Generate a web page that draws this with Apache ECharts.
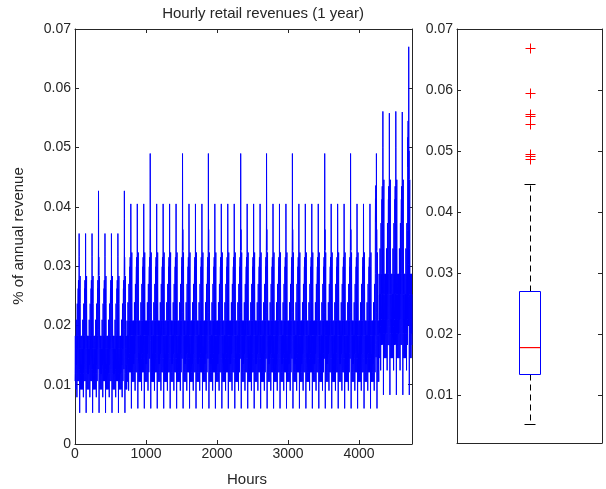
<!DOCTYPE html>
<html>
<head>
<meta charset="utf-8">
<script src="https://cdn.jsdelivr.net/npm/echarts@6/dist/echarts.min.js"></script>
<style>
  html, body { margin: 0; padding: 0; background: #ffffff; }
  #chart { width: 606px; height: 489px; }
</style>
</head>
<body>
<div id="chart"></div>
<script>
// ---- Hourly revenue profiles (% of annual revenue), 13 trading hours per day ----
const HOURS_PER_DAY = 13;
const profileTue = [0.0121, 0.0135, 0.0152, 0.0183, 0.0208, 0.0183, 0.0152, 0.0135, 0.0144, 0.0183, 0.0152, 0.0135, 0.0121];
const profileWed = [0.0105, 0.0135, 0.0152, 0.0183, 0.0239, 0.0208, 0.0183, 0.0152, 0.0152, 0.0183, 0.0183, 0.0144, 0.0121];
const profileThu = [0.0090, 0.0135, 0.0183, 0.0208, 0.0239, 0.0270, 0.0208, 0.0183, 0.0183, 0.0208, 0.0183, 0.0152, 0.0121];
const profileFri = [0.0121, 0.0152, 0.0208, 0.0270, 0.0270, 0.0299, 0.0270, 0.0270, 0.0270, 0.0315, 0.0270, 0.0208, 0.0144];
const profileSat = [0.0121, 0.0183, 0.0270, 0.0270, 0.0315, 0.0405, 0.0361, 0.0299, 0.0270, 0.0299, 0.0270, 0.0183, 0.0144];
const profileSun = [0.0060, 0.0135, 0.0183, 0.0239, 0.0270, 0.0299, 0.0323, 0.0270, 0.0270, 0.0208, 0.0183, 0.0135, 0.0105];
const profileMon = [0.0105, 0.0121, 0.0135, 0.0152, 0.0183, 0.0208, 0.0183, 0.0152, 0.0135, 0.0152, 0.0144, 0.0121, 0.0105];

// Calendar: 365 days, the year opens on a Tuesday (0 = Sunday)
const DAYS = 365;
const FIRST_WEEKDAY = 2;

// Level of each week relative to the base profiles (53 weeks)
const weekScale = [
  0.877, 0.877, 0.877, 0.877, 0.877, 0.877, 0.877, 0.877,
  1, 1, 1, 1, 1, 1, 1, 1, 1, 1,
  1, 1, 1, 1, 1, 1, 1, 1, 1, 1,
  1, 1, 1, 1, 1, 1, 1, 1, 1, 1,
  1, 1, 1, 1, 1, 1, 1, 1, 1,
  1.38, 1.38, 1.38, 1.38, 1.38, 1.38
];

// Peak hour of each Saturday (53 weeks)
const saturdayPeak = [
  0.0355, 0.0355, 0.0355, 0.0427, 0.0355, 0.0355, 0.0355, 0.0427,
  0.0405, 0.0405, 0.0405, 0.0490, 0.0405, 0.0405, 0.0405, 0.0405, 0.0490,
  0.0405, 0.0405, 0.0405, 0.0490, 0.0405, 0.0405, 0.0405, 0.0405, 0.0490,
  0.0405, 0.0405, 0.0405, 0.0490, 0.0405, 0.0405, 0.0405, 0.0490,
  0.0405, 0.0405, 0.0405, 0.0405, 0.0490, 0.0405, 0.0405, 0.0405, 0.0490,
  0.0405, 0.0405, 0.0405, 0.0490,
  0.0561, 0.0558, 0.0561, 0.0560, 0.0670, 0.0560
];

// Individual days with an unusual peak hour
const specialDays = [325, 360];
const specialPeaks = [0.0436, 0.0545];

// Box plot summary of all hourly values
const boxStats = [0.0052, 0.0135, 0.0179, 0.0271, 0.0446]; // min, Q1, median, Q3, max
const outliers = [0.0670, 0.0595, 0.0561, 0.0558, 0.0545, 0.0496, 0.0493, 0.0487];

// Axis ticks
const hourTicks = [0, 1000, 2000, 3000, 4000];
const shareTicks = [0, 0.01, 0.02, 0.03, 0.04, 0.05, 0.06, 0.07];
const boxTicks = [0.01, 0.02, 0.03, 0.04, 0.05, 0.06, 0.07];

// ---- Assemble the hourly series ----
const profilesBySunday = [profileSun, profileMon, profileTue, profileWed, profileThu, profileFri, profileSat];
const hourly = [];
for (let d = 0; d < DAYS; d++) {
  const weekday = (FIRST_WEEKDAY + d) % 7;
  const week = Math.floor(d / 7);
  const profile = profilesBySunday[weekday];
  const top = Math.max.apply(null, profile);
  let factor = weekScale[week];
  const s = specialDays.indexOf(d);
  if (s >= 0) factor = specialPeaks[s] / top;
  else if (weekday === 6) factor = saturdayPeak[week] / top;
  for (let h = 0; h < HOURS_PER_DAY; h++) {
    hourly.push([d * HOURS_PER_DAY + h + 1, +(profile[h] * factor).toFixed(5)]);
  }
}
const TOTAL_HOURS = hourly.length;

// ---- Styling ----
const FONT = '"Liberation Sans", Arial, Helvetica, sans-serif';
const INK = '#262626';
const axisLineStyle = { color: INK, width: 1 };
const fmtShare = v => (Math.abs(v) < 1e-9 ? '0' : v.toFixed(2));
const fmtHour = v => String(Math.round(v));
const crisp = v => Math.round(v) + 0.5;

function frameAxis(extra) {
  return Object.assign({
    type: 'value',
    axisLine: { show: true, onZero: false, lineStyle: axisLineStyle },
    axisTick: { show: false },
    axisLabel: { show: false },
    splitLine: { show: false }
  }, extra);
}

const chart = echarts.init(document.getElementById('chart'), null, { renderer: 'canvas' });

chart.setOption({
  animation: false,
  backgroundColor: '#ffffff',
  grid: [
    { left: 75, top: 29, width: 337, height: 415 },
    { left: 457, top: 29, width: 145, height: 414 }
  ],
  xAxis: [
    frameAxis({
      gridIndex: 0, min: 0, max: TOTAL_HOURS, position: 'bottom',
      axisTick: { show: true, inside: true, length: 4, customValues: hourTicks, lineStyle: axisLineStyle },
      axisLabel: { show: true, customValues: hourTicks, formatter: fmtHour, margin: 3, fontSize: 14, fontFamily: FONT, color: INK }
    }),
    frameAxis({
      gridIndex: 0, min: 0, max: TOTAL_HOURS, position: 'top',
      axisTick: { show: true, inside: true, length: 4, customValues: hourTicks, lineStyle: axisLineStyle }
    }),
    frameAxis({ gridIndex: 1, min: 0.5, max: 1.5, position: 'bottom' }),
    frameAxis({ gridIndex: 1, min: 0.5, max: 1.5, position: 'top' })
  ],
  yAxis: [
    frameAxis({
      gridIndex: 0, min: 0, max: 0.07, position: 'left',
      axisTick: { show: true, inside: true, length: 4, customValues: shareTicks, lineStyle: axisLineStyle },
      axisLabel: { show: true, customValues: shareTicks, formatter: fmtShare, margin: 4, fontSize: 14, fontFamily: FONT, color: INK }
    }),
    frameAxis({
      gridIndex: 0, min: 0, max: 0.07, position: 'right',
      axisTick: { show: true, inside: true, length: 4, customValues: shareTicks, lineStyle: axisLineStyle }
    }),
    frameAxis({
      gridIndex: 1, min: 0.00209, max: 0.07009, position: 'left',
      axisTick: { show: true, inside: true, length: 4, customValues: boxTicks, lineStyle: axisLineStyle },
      axisLabel: { show: true, customValues: boxTicks, formatter: fmtShare, margin: 4, fontSize: 14, fontFamily: FONT, color: INK }
    }),
    frameAxis({
      gridIndex: 1, min: 0.00209, max: 0.07009, position: 'right',
      axisTick: { show: true, inside: true, length: 4, customValues: boxTicks, lineStyle: axisLineStyle }
    })
  ],
  graphic: [
    {
      type: 'text', x: 263, y: 14,
      style: { text: 'Hourly retail revenues (1 year)', font: '15px ' + FONT, fill: INK, align: 'center', verticalAlign: 'middle' }
    },
    {
      type: 'text', x: 247, y: 480,
      style: { text: 'Hours', font: '15px ' + FONT, fill: INK, align: 'center', verticalAlign: 'middle' }
    },
    {
      type: 'text', x: 19, y: 236, rotation: Math.PI / 2,
      style: { text: '% of annual revenue', font: '15px ' + FONT, fill: INK, align: 'center', verticalAlign: 'middle' }
    }
  ],
  series: [
    {
      name: 'Hourly revenue',
      type: 'line',
      xAxisIndex: 0, yAxisIndex: 0,
      data: hourly,
      showSymbol: false,
      symbol: 'none',
      sampling: null,
      lineStyle: { color: '#0000ff', width: 1 },
      silent: true
    },
    {
      name: 'Distribution',
      type: 'custom',
      xAxisIndex: 2, yAxisIndex: 2,
      data: [[1].concat(boxStats)],
      silent: true,
      clip: false,
      renderItem: function (params, api) {
        const x = api.value(0);
        const boxHalf = 0.075, capHalf = 0.036;
        const yLo = crisp(api.coord([x, api.value(1)])[1]);
        const yQ1 = crisp(api.coord([x, api.value(2)])[1]);
        const yMed = Math.round(api.coord([x, api.value(3)])[1]);
        const yQ3 = crisp(api.coord([x, api.value(4)])[1]);
        const yHi = crisp(api.coord([x, api.value(5)])[1]);
        const cx = crisp(api.coord([x, 0])[0]);
        const bl = crisp(api.coord([x - boxHalf, 0])[0]);
        const br = crisp(api.coord([x + boxHalf, 0])[0]);
        const cl = crisp(api.coord([x - capHalf, 0])[0]);
        const cr = crisp(api.coord([x + capHalf, 0])[0]);
        const whisker = { stroke: '#000000', fill: null, lineWidth: 1, lineDash: [6, 4] };
        const cap = { stroke: '#000000', fill: null, lineWidth: 1 };
        return {
          type: 'group',
          children: [
            { type: 'line', shape: { x1: cx, y1: yQ3, x2: cx, y2: yHi }, style: whisker },
            { type: 'line', shape: { x1: cx, y1: yQ1, x2: cx, y2: yLo }, style: whisker },
            { type: 'line', shape: { x1: cl, y1: yHi, x2: cr, y2: yHi }, style: cap },
            { type: 'line', shape: { x1: cl, y1: yLo, x2: cr, y2: yLo }, style: cap },
            { type: 'rect', shape: { x: bl, y: yQ3, width: br - bl, height: yQ1 - yQ3 },
              style: { fill: null, stroke: '#0000ff', lineWidth: 1 } },
            { type: 'rect', shape: { x: bl + 0.5, y: yMed, width: br - bl - 1, height: 1.2 },
              style: { fill: '#ff0000', stroke: null } }
          ]
        };
      }
    },
    {
      name: 'Outliers',
      type: 'custom',
      xAxisIndex: 2, yAxisIndex: 2,
      data: outliers.map(v => [1, v]),
      silent: true,
      clip: false,
      renderItem: function (params, api) {
        const p = api.coord([api.value(0), api.value(1)]);
        const px = crisp(p[0]), py = crisp(p[1]);
        const r = 5;
        const st = { stroke: '#ff0000', fill: null, lineWidth: 1 };
        return {
          type: 'group',
          children: [
            { type: 'line', shape: { x1: px - r, y1: py, x2: px + r, y2: py }, style: st },
            { type: 'line', shape: { x1: px, y1: py - r, x2: px, y2: py + r }, style: st }
          ]
        };
      }
    }
  ]
});
</script>
</body>
</html>
